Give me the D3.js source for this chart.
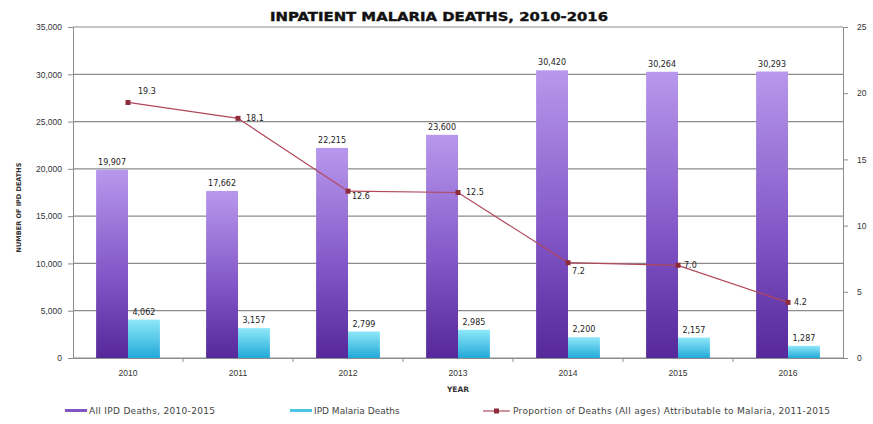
<!DOCTYPE html>
<html>
<head>
<meta charset="utf-8">
<script src="https://cdn.jsdelivr.net/npm/d3@7"></script>
<style>
  body { margin: 0; background: #fff; }
  svg { font-family: 'DejaVu Sans', sans-serif; }
</style>
</head>
<body>
<svg id="chart" width="873" height="424"></svg>
<script>
const years = ['2010', '2011', '2012', '2013', '2014', '2015', '2016'];
const allDeaths = [19907, 17662, 22215, 23600, 30420, 30264, 30293];
const malariaDeaths = [4062, 3157, 2799, 2985, 2200, 2157, 1287];
const proportion = [19.3, 18.1, 12.6, 12.5, 7.2, 7.0, 4.2];
const leftTicks = [0, 5000, 10000, 15000, 20000, 25000, 30000, 35000];
const rightTicks = [0, 5, 10, 15, 20, 25];
// label placement for line points: [dx, dy]
const lineLabelPos = [[10, -8], [8, 3], [4, 8], [8, 2], [4, 11], [6, 3], [6, 3]];

const svg = d3.select('#chart');
const m = {left: 73, right: 843, top: 27, bottom: 358};

const x = d3.scaleBand().domain(years).range([m.left, m.right]).padding(0);
const yL = d3.scaleLinear().domain([0, 35000]).range([m.bottom, m.top]);
const yR = d3.scaleLinear().domain([0, 25]).range([m.bottom, m.top]);
const fmt = d3.format(',');

const defs = svg.append('defs');
const gp = defs.append('linearGradient').attr('id', 'gPurple').attr('x1', 0).attr('y1', 0).attr('x2', 0).attr('y2', 1);
gp.append('stop').attr('offset', '0%').attr('stop-color', '#b898ec');
gp.append('stop').attr('offset', '55%').attr('stop-color', '#8458c8');
gp.append('stop').attr('offset', '100%').attr('stop-color', '#56289a');
const gc = defs.append('linearGradient').attr('id', 'gCyan').attr('x1', 0).attr('y1', 0).attr('x2', 0).attr('y2', 1);
gc.append('stop').attr('offset', '0%').attr('stop-color', '#8ee8f8');
gc.append('stop').attr('offset', '100%').attr('stop-color', '#22a9d9');

// title
svg.append('text')
  .attr('x', 439).attr('y', 21)
  .attr('text-anchor', 'middle')
  .attr('font-size', 13).attr('font-weight', 'bold')
  .attr('fill', '#111').attr('stroke', '#111').attr('stroke-width', 0.4)
  .attr('textLength', 338).attr('lengthAdjust', 'spacingAndGlyphs')
  .text('INPATIENT MALARIA DEATHS, 2010-2016');

// gridlines
svg.append('g').selectAll('line').data(leftTicks).enter().append('line')
  .attr('x1', m.left).attr('x2', m.right)
  .attr('y1', d => yL(d)).attr('y2', d => yL(d))
  .attr('stroke', '#8c8c8c').attr('stroke-width', 1.2);

// left axis
const gLeft = svg.append('g').attr('transform', `translate(${m.left},0)`)
  .call(d3.axisLeft(yL).tickValues(leftTicks).tickFormat(fmt).tickSize(5).tickPadding(6));
gLeft.select('.domain').attr('stroke', '#8c8c8c');
gLeft.selectAll('line').attr('stroke', '#8c8c8c');
gLeft.selectAll('text').attr('font-size', 8.5).attr('fill', '#333');

// right axis
const gRight = svg.append('g').attr('transform', `translate(${m.right},0)`)
  .call(d3.axisRight(yR).tickValues(rightTicks).tickSize(5).tickPadding(9));
gRight.select('.domain').attr('stroke', '#8c8c8c');
gRight.selectAll('line').attr('stroke', '#8c8c8c');
gRight.selectAll('text').attr('font-size', 8.5).attr('fill', '#333');

// x axis
const gX = svg.append('g').attr('transform', `translate(0,${m.bottom})`)
  .call(d3.axisBottom(x).tickSize(0).tickPadding(12));
gX.select('.domain').attr('stroke', '#8c8c8c');
gX.selectAll('text').attr('font-size', 8.5).attr('fill', '#333');
svg.append('g').selectAll('line').data(years.slice(1)).enter().append('line')
  .attr('x1', d => x(d)).attr('x2', d => x(d))
  .attr('y1', m.bottom).attr('y2', m.bottom + 4)
  .attr('stroke', '#8c8c8c');

// axis titles
svg.append('text')
  .attr('transform', `translate(21,${(m.top + m.bottom) / 2 + 15}) rotate(-90)`)
  .attr('text-anchor', 'middle').attr('font-size', 6.5).attr('font-weight', 'bold').attr('fill', '#333')
  .text('NUMBER OF IPD DEATHS');
svg.append('text')
  .attr('x', (m.left + m.right) / 2).attr('y', 392)
  .attr('text-anchor', 'middle').attr('font-size', 7.5).attr('font-weight', 'bold').attr('fill', '#333')
  .text('YEAR');

// bars
const bw = x.bandwidth() * 0.29;
const bars = svg.append('g');
bars.selectAll('.all').data(years).enter().append('rect')
  .attr('x', d => x(d) + x.bandwidth() / 2 - bw)
  .attr('y', (d, i) => yL(allDeaths[i]))
  .attr('width', bw)
  .attr('height', (d, i) => m.bottom - yL(allDeaths[i]))
  .attr('fill', 'url(#gPurple)');
bars.selectAll('.mal').data(years).enter().append('rect')
  .attr('x', d => x(d) + x.bandwidth() / 2)
  .attr('y', (d, i) => yL(malariaDeaths[i]))
  .attr('width', bw)
  .attr('height', (d, i) => m.bottom - yL(malariaDeaths[i]))
  .attr('fill', 'url(#gCyan)');

// bar labels
bars.selectAll('.lAll').data(years).enter().append('text')
  .attr('x', d => x(d) + x.bandwidth() / 2 - bw / 2)
  .attr('y', (d, i) => yL(allDeaths[i]) - 5)
  .attr('text-anchor', 'middle').attr('font-size', 8).attr('fill', '#222')
  .text((d, i) => fmt(allDeaths[i]));
bars.selectAll('.lMal').data(years).enter().append('text')
  .attr('x', d => x(d) + x.bandwidth() / 2 + bw / 2)
  .attr('y', (d, i) => yL(malariaDeaths[i]) - 5)
  .attr('text-anchor', 'middle').attr('font-size', 8).attr('fill', '#222')
  .text((d, i) => fmt(malariaDeaths[i]));

// proportion line
const cx = d => x(d) + x.bandwidth() / 2;
const line = d3.line().x(d => cx(d)).y((d, i) => yR(proportion[i]));
svg.append('path').datum(years)
  .attr('d', line)
  .attr('fill', 'none').attr('stroke', '#b0485a').attr('stroke-width', 1.2);
svg.append('g').selectAll('rect').data(years).enter().append('rect')
  .attr('x', d => cx(d) - 2.5)
  .attr('y', (d, i) => yR(proportion[i]) - 2.5)
  .attr('width', 5).attr('height', 5)
  .attr('fill', '#8e2c3c');
svg.append('g').selectAll('text').data(years).enter().append('text')
  .attr('x', (d, i) => cx(d) + lineLabelPos[i][0])
  .attr('y', (d, i) => yR(proportion[i]) + lineLabelPos[i][1])
  .attr('font-size', 8).attr('fill', '#222')
  .text((d, i) => proportion[i].toFixed(1));

// legend
const leg = svg.append('g').attr('font-size', 9).attr('fill', '#444');
leg.append('rect').attr('x', 65).attr('y', 409).attr('width', 22).attr('height', 3).attr('fill', '#7d55c0');
leg.append('text').attr('x', 89).attr('y', 414).attr('textLength', 126).text('All IPD Deaths, 2010-2015');
leg.append('rect').attr('x', 290).attr('y', 409).attr('width', 22).attr('height', 3).attr('fill', '#4cc4e6');
leg.append('text').attr('x', 314).attr('y', 414).text('IPD Malaria Deaths');
leg.append('line').attr('x1', 483).attr('x2', 510).attr('y1', 411).attr('y2', 411).attr('stroke', '#b0485a').attr('stroke-width', 1.2);
leg.append('rect').attr('x', 494).attr('y', 408.5).attr('width', 5).attr('height', 5).attr('fill', '#8e2c3c');
leg.append('text').attr('x', 513).attr('y', 414).attr('textLength', 317).text('Proportion of Deaths (All ages) Attributable to Malaria, 2011-2015');
</script>
</body>
</html>
